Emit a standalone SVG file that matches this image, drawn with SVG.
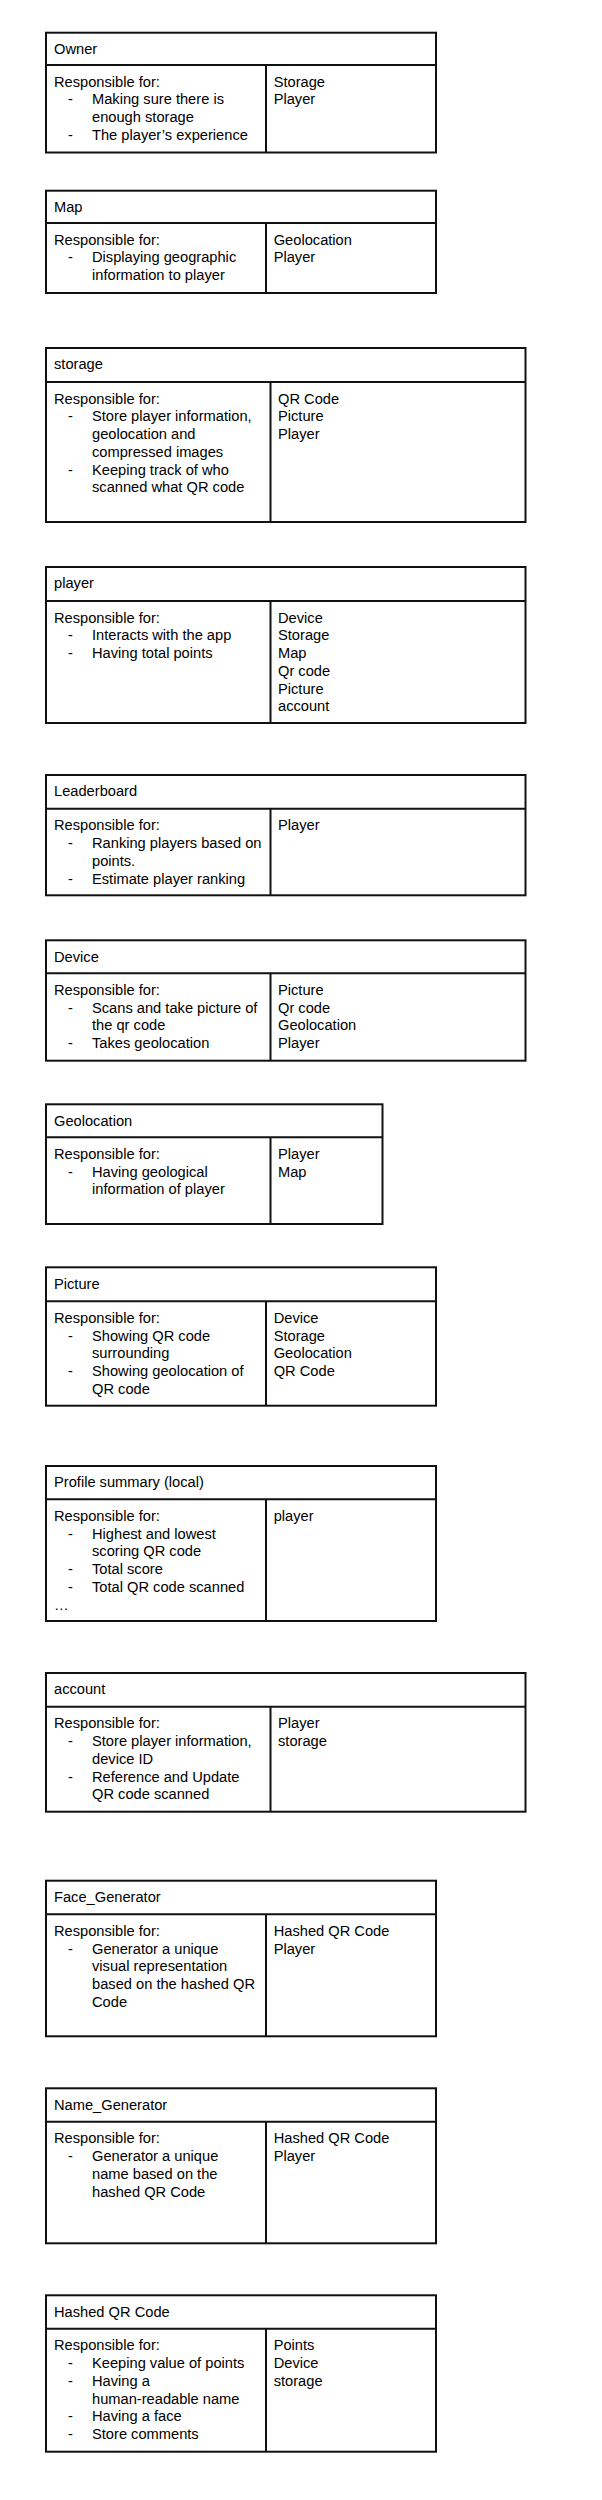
<svg xmlns="http://www.w3.org/2000/svg" width="602" height="2500" viewBox="0 0 602 2500">
<style>
rect{fill:#fff;stroke:#111;stroke-width:2}
line{stroke:#111;stroke-width:2}
text{font-family:"Liberation Sans",Arial,sans-serif;font-size:14.67px;fill:#000}
</style>
<rect x="0" y="0" width="602" height="2500" style="stroke:none"/>

<g id="owner">
<rect x="46" y="32.7" width="390" height="119.8"/>
<line x1="46" y1="65" x2="436" y2="65"/>
<line x1="266" y1="65" x2="266" y2="152.5"/>
<text x="54" y="54">Owner</text>
<text x="54" y="86.7">Responsible for:</text>
<text x="68" y="104.4">-</text><text x="92" y="104.4">Making sure there is</text>
<text x="92" y="122.1">enough storage</text>
<text x="68" y="139.8">-</text><text x="92" y="139.8">The player’s experience</text>
<text x="273.7" y="86.7">Storage</text>
<text x="273.7" y="104.4">Player</text>
</g>

<g id="map">
<rect x="46" y="190.7" width="390" height="102.3"/>
<line x1="46" y1="223" x2="436" y2="223"/>
<line x1="266" y1="223" x2="266" y2="293"/>
<text x="54" y="212">Map</text>
<text x="54" y="244.7">Responsible for:</text>
<text x="68" y="262.4">-</text><text x="92" y="262.4">Displaying geographic</text>
<text x="92" y="280.1">information to player</text>
<text x="273.7" y="244.7">Geolocation</text>
<text x="273.7" y="262.4">Player</text>
</g>

<g id="storage">
<rect x="46" y="348" width="479.5" height="174"/>
<line x1="46" y1="382" x2="525.5" y2="382"/>
<line x1="270.5" y1="382" x2="270.5" y2="522"/>
<text x="54" y="369.3">storage</text>
<text x="54" y="403.7">Responsible for:</text>
<text x="68" y="421.4">-</text><text x="92" y="421.4">Store player information,</text>
<text x="92" y="439.1">geolocation and</text>
<text x="92" y="456.8">compressed images</text>
<text x="68" y="474.5">-</text><text x="92" y="474.5">Keeping track of who</text>
<text x="92" y="492.2">scanned what QR code</text>
<text x="278" y="403.7">QR Code</text>
<text x="278" y="421.4">Picture</text>
<text x="278" y="439.1">Player</text>
</g>

<g id="player">
<rect x="46" y="567" width="479.5" height="156"/>
<line x1="46" y1="601" x2="525.5" y2="601"/>
<line x1="270.5" y1="601" x2="270.5" y2="723"/>
<text x="54" y="588.3">player</text>
<text x="54" y="622.7">Responsible for:</text>
<text x="68" y="640.4">-</text><text x="92" y="640.4">Interacts with the app</text>
<text x="68" y="658.1">-</text><text x="92" y="658.1">Having total points</text>
<text x="278" y="622.7">Device</text>
<text x="278" y="640.4">Storage</text>
<text x="278" y="658.1">Map</text>
<text x="278" y="675.8">Qr code</text>
<text x="278" y="693.5">Picture</text>
<text x="278" y="711.2">account</text>
</g>

<g id="leaderboard">
<rect x="46" y="775" width="479.5" height="120.3"/>
<line x1="46" y1="808.7" x2="525.5" y2="808.7"/>
<line x1="270.5" y1="808.7" x2="270.5" y2="895.3"/>
<text x="54" y="796.3">Leaderboard</text>
<text x="54" y="830.4">Responsible for:</text>
<text x="68" y="848.1">-</text><text x="92" y="848.1">Ranking players based on</text>
<text x="92" y="865.8">points.</text>
<text x="68" y="883.5">-</text><text x="92" y="883.5">Estimate player ranking</text>
<text x="278" y="830.4">Player</text>
</g>

<g id="device">
<rect x="46" y="940.3" width="479.5" height="120.4"/>
<line x1="46" y1="973.3" x2="525.5" y2="973.3"/>
<line x1="270.5" y1="973.3" x2="270.5" y2="1060.7"/>
<text x="54" y="961.6">Device</text>
<text x="54" y="995">Responsible for:</text>
<text x="68" y="1012.7">-</text><text x="92" y="1012.7">Scans and take picture of</text>
<text x="92" y="1030.4">the qr code</text>
<text x="68" y="1048.1">-</text><text x="92" y="1048.1">Takes geolocation</text>
<text x="278" y="995">Picture</text>
<text x="278" y="1012.7">Qr code</text>
<text x="278" y="1030.4">Geolocation</text>
<text x="278" y="1048.1">Player</text>
</g>

<g id="geolocation">
<rect x="46" y="1104.3" width="336.5" height="119.7"/>
<line x1="46" y1="1137.3" x2="382.5" y2="1137.3"/>
<line x1="270.5" y1="1137.3" x2="270.5" y2="1224"/>
<text x="54" y="1125.6">Geolocation</text>
<text x="54" y="1159">Responsible for:</text>
<text x="68" y="1176.7">-</text><text x="92" y="1176.7">Having geological</text>
<text x="92" y="1194.4">information of player</text>
<text x="278" y="1159">Player</text>
<text x="278" y="1176.7">Map</text>
</g>

<g id="picture">
<rect x="46" y="1267.3" width="390" height="138.4"/>
<line x1="46" y1="1301.3" x2="436" y2="1301.3"/>
<line x1="266" y1="1301.3" x2="266" y2="1405.7"/>
<text x="54" y="1288.6">Picture</text>
<text x="54" y="1323">Responsible for:</text>
<text x="68" y="1340.7">-</text><text x="92" y="1340.7">Showing QR code</text>
<text x="92" y="1358.4">surrounding</text>
<text x="68" y="1376.1">-</text><text x="92" y="1376.1">Showing geolocation of</text>
<text x="92" y="1393.8">QR code</text>
<text x="273.7" y="1323">Device</text>
<text x="273.7" y="1340.7">Storage</text>
<text x="273.7" y="1358.4">Geolocation</text>
<text x="273.7" y="1376.1">QR Code</text>
</g>

<g id="profile-summary">
<rect x="46" y="1466" width="390" height="155"/>
<line x1="46" y1="1499.3" x2="436" y2="1499.3"/>
<line x1="266" y1="1499.3" x2="266" y2="1621"/>
<text x="54" y="1487.3">Profile summary (local)</text>
<text x="54" y="1521">Responsible for:</text>
<text x="68" y="1538.7">-</text><text x="92" y="1538.7">Highest and lowest</text>
<text x="92" y="1556.4">scoring QR code</text>
<text x="68" y="1574.1">-</text><text x="92" y="1574.1">Total score</text>
<text x="68" y="1591.8">-</text><text x="92" y="1591.8">Total QR code scanned</text>
<text x="54" y="1609.5">…</text>
<text x="273.7" y="1521">player</text>
</g>

<g id="account">
<rect x="46" y="1673" width="479.5" height="138.7"/>
<line x1="46" y1="1706.7" x2="525.5" y2="1706.7"/>
<line x1="270.5" y1="1706.7" x2="270.5" y2="1811.7"/>
<text x="54" y="1694.3">account</text>
<text x="54" y="1728.4">Responsible for:</text>
<text x="68" y="1746.1">-</text><text x="92" y="1746.1">Store player information,</text>
<text x="92" y="1763.8">device ID</text>
<text x="68" y="1781.5">-</text><text x="92" y="1781.5">Reference and Update</text>
<text x="92" y="1799.2">QR code scanned</text>
<text x="278" y="1728.4">Player</text>
<text x="278" y="1746.1">storage</text>
</g>

<g id="face-generator">
<rect x="46" y="1880.7" width="390" height="155.6"/>
<line x1="46" y1="1914.3" x2="436" y2="1914.3"/>
<line x1="266" y1="1914.3" x2="266" y2="2036.3"/>
<text x="54" y="1902">Face_Generator</text>
<text x="54" y="1936">Responsible for:</text>
<text x="68" y="1953.7">-</text><text x="92" y="1953.7">Generator a unique</text>
<text x="92" y="1971.4">visual representation</text>
<text x="92" y="1989.1">based on the hashed QR</text>
<text x="92" y="2006.8">Code</text>
<text x="273.7" y="1936">Hashed QR Code</text>
<text x="273.7" y="1953.7">Player</text>
</g>

<g id="name-generator">
<rect x="46" y="2088.3" width="390" height="155"/>
<line x1="46" y1="2121.7" x2="436" y2="2121.7"/>
<line x1="266" y1="2121.7" x2="266" y2="2243.3"/>
<text x="54" y="2109.6">Name_Generator</text>
<text x="54" y="2143.4">Responsible for:</text>
<text x="68" y="2161.1">-</text><text x="92" y="2161.1">Generator a unique</text>
<text x="92" y="2178.8">name based on the</text>
<text x="92" y="2196.5">hashed QR Code</text>
<text x="273.7" y="2143.4">Hashed QR Code</text>
<text x="273.7" y="2161.1">Player</text>
</g>

<g id="hashed-qr-code">
<rect x="46" y="2295.3" width="390" height="156.4"/>
<line x1="46" y1="2328.7" x2="436" y2="2328.7"/>
<line x1="266" y1="2328.7" x2="266" y2="2451.7"/>
<text x="54" y="2316.6">Hashed QR Code</text>
<text x="54" y="2350.4">Responsible for:</text>
<text x="68" y="2368.1">-</text><text x="92" y="2368.1">Keeping value of points</text>
<text x="68" y="2385.8">-</text><text x="92" y="2385.8">Having a</text>
<text x="92" y="2403.5">human-readable name</text>
<text x="68" y="2421.2">-</text><text x="92" y="2421.2">Having a face</text>
<text x="68" y="2438.9">-</text><text x="92" y="2438.9">Store comments</text>
<text x="273.7" y="2350.4">Points</text>
<text x="273.7" y="2368.1">Device</text>
<text x="273.7" y="2385.8">storage</text>
</g>
</svg>
